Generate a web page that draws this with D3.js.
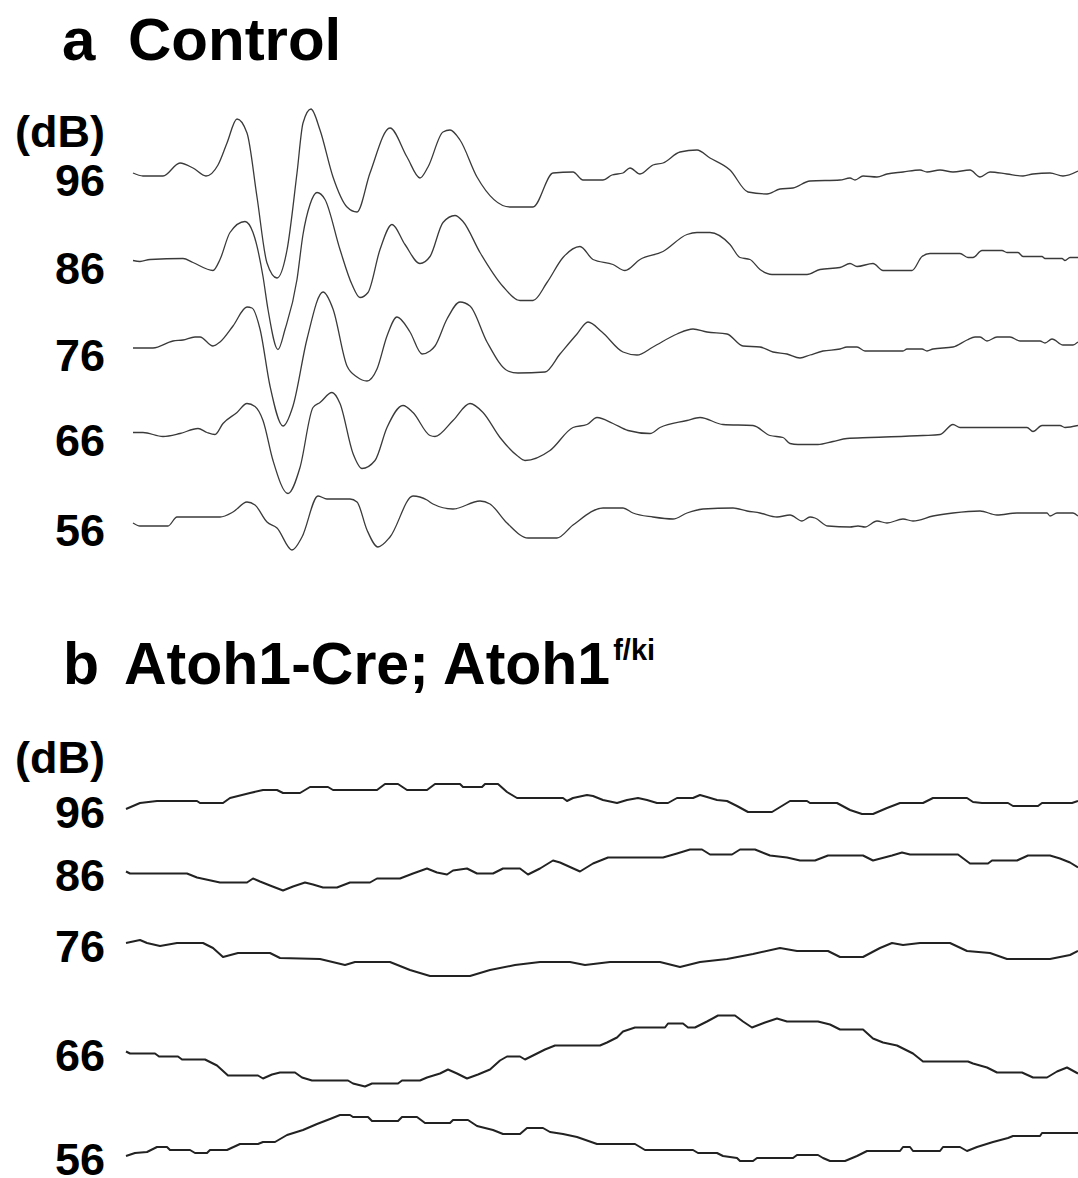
<!DOCTYPE html>
<html>
<head>
<meta charset="utf-8">
<script src="https://cdn.jsdelivr.net/npm/d3@7"></script>
<style>
  body { margin: 0; background: #fff; }
  text { font-family: "Liberation Sans", Arial, sans-serif; font-weight: bold; fill: #000; }
</style>
</head>
<body>
<div id="chart"></div>
<script>
// stimulus levels (dB), top to bottom
var levels = [96, 86, 76, 66, 56];

// panel a: control ABR traces, [time (ms), amplitude]
var ctl96 = [[0,0],[0.10,-0.3],[0.30,-0.3],[0.47,1.0],[0.60,0.5],[0.73,-0.3],[0.85,0.8],[0.94,3.0],[1.04,5.4],[1.14,4.0],[1.24,-2.4],[1.34,-9.0],[1.44,-10.5],[1.54,-7.7],[1.64,0.0],[1.70,5.0],[1.78,6.4],[1.87,4.3],[2.00,-0.4],[2.14,-3.4],[2.24,-3.9],[2.37,0.0],[2.57,4.5],[2.74,1.6],[2.87,-0.5],[2.95,0.6],[3.10,4.1],[3.17,4.3],[3.27,3.3],[3.44,-0.4],[3.77,-3.4],[4.00,-3.4],[4.20,0.0],[4.40,0.1],[4.50,-0.7],[4.70,-0.7],[4.79,-0.2],[4.90,0.0],[4.97,0.5],[5.07,-0.1],[5.20,0.8],[5.30,1.0],[5.47,2.1],[5.64,2.3],[5.77,1.5],[5.97,0.3],[6.15,-1.9],[6.34,-2.1],[6.47,-1.6],[6.60,-1.5],[6.77,-0.8],[7.07,-0.7],[7.17,-0.5],[7.22,-0.7],[7.30,-0.3],[7.44,-0.4],[7.54,-0.1],[7.70,0.1],[7.87,0.3],[7.94,0.1],[8.07,0.3],[8.20,0.1],[8.37,0.3],[8.47,-0.4],[8.57,0.1],[8.74,-0.1],[8.90,-0.3],[9.00,-0.1],[9.17,0.0],[9.30,-0.3],[9.45,0.2]];
var ctl86 = [[0,0],[0.07,-0.1],[0.17,0.1],[0.50,0.2],[0.60,-0.2],[0.80,-1.0],[0.87,0.1],[0.97,2.8],[1.12,3.9],[1.20,2.8],[1.30,-1.6],[1.35,-4.9],[1.45,-8.9],[1.52,-6.9],[1.64,-1.9],[1.70,2.6],[1.77,5.6],[1.84,6.8],[1.92,6.1],[2.07,1.1],[2.19,-2.4],[2.27,-3.7],[2.35,-3.2],[2.47,1.1],[2.59,3.6],[2.72,1.6],[2.87,-0.3],[2.97,0.4],[3.10,3.8],[3.22,4.5],[3.30,3.9],[3.47,0.8],[3.70,-2.6],[3.87,-4.0],[4.00,-4.0],[4.14,-2.2],[4.30,0.3],[4.47,1.4],[4.60,0.1],[4.80,-0.4],[4.92,-1.0],[5.07,0.1],[5.30,0.9],[5.54,2.6],[5.64,2.8],[5.77,2.8],[5.97,1.6],[6.07,0.3],[6.17,0.1],[6.27,-0.9],[6.39,-1.4],[6.74,-1.4],[6.87,-0.9],[7.07,-0.7],[7.17,-0.3],[7.24,-0.6],[7.40,-0.3],[7.50,-1.0],[7.79,-1.0],[7.89,0.4],[7.97,0.7],[8.27,0.7],[8.35,0.3],[8.40,0.3],[8.49,1.0],[8.69,1.0],[8.74,0.8],[8.85,0.8],[8.90,0.4],[9.09,0.4],[9.12,0.2],[9.29,0.2],[9.32,0.0],[9.37,0.3],[9.45,0.3]];
var ctl76 = [[0,0],[0.20,0],[0.40,0.7],[0.50,0.8],[0.62,1.1],[0.67,1.1],[0.80,0.2],[0.87,0.6],[1.00,2.2],[1.14,4.1],[1.19,4.0],[1.27,1.9],[1.37,-3.8],[1.50,-7.8],[1.60,-5.8],[1.74,0.9],[1.90,5.6],[2.00,3.9],[2.14,-1.8],[2.24,-2.9],[2.34,-3.3],[2.44,-2.1],[2.54,1.2],[2.64,3.1],[2.77,1.6],[2.89,-0.6],[2.97,-0.3],[3.02,0.2],[3.14,2.9],[3.27,4.6],[3.37,4.2],[3.54,0.6],[3.75,-2.3],[3.85,-2.5],[4.12,-2.4],[4.27,-0.6],[4.44,1.4],[4.55,2.6],[4.69,1.6],[4.90,-0.4],[5.04,-0.7],[5.20,0.1],[5.44,1.4],[5.60,1.9],[5.74,1.6],[5.94,1.4],[6.10,0.2],[6.27,0.1],[6.40,-0.4],[6.54,-0.6],[6.67,-1.0],[6.77,-0.7],[6.90,-0.3],[7.07,-0.1],[7.14,0.1],[7.24,0.1],[7.32,-0.3],[7.70,-0.3],[7.74,-0.1],[7.89,-0.1],[7.94,-0.3],[8.00,-0.1],[8.20,0.1],[8.34,0.8],[8.42,1.1],[8.47,1.1],[8.54,0.7],[8.64,1.1],[8.77,1.1],[8.87,0.7],[9.07,0.7],[9.12,0.5],[9.19,0.9],[9.30,0.3],[9.40,0.3],[9.45,0.6]];
var ctl66 = [[0,0.3],[0.10,0.3],[0.30,-0.1],[0.47,0.2],[0.65,0.7],[0.74,0.3],[0.82,0.1],[0.90,1.2],[1.04,2.3],[1.14,3.2],[1.22,2.9],[1.30,1.5],[1.40,-2.5],[1.55,-5.8],[1.67,-3.2],[1.80,2.8],[1.87,3.3],[1.99,4.3],[2.07,3.2],[2.20,-1.8],[2.29,-3.3],[2.42,-2.5],[2.54,0.8],[2.70,3.0],[2.80,2.3],[2.97,0.0],[3.02,-0.1],[3.20,1.5],[3.37,3.2],[3.50,2.3],[3.67,-0.2],[3.84,-2.0],[3.92,-2.5],[4.17,-1.5],[4.40,0.8],[4.54,1.1],[4.64,1.8],[4.80,1.2],[4.95,0.5],[5.17,0.2],[5.27,0.8],[5.54,1.5],[5.67,1.8],[5.90,1.1],[6.20,1.0],[6.37,0.0],[6.50,-0.2],[6.57,-0.8],[6.65,-0.9],[6.85,-0.9],[7.00,-0.6],[7.14,-0.3],[7.37,-0.2],[7.90,0.0],[8.07,0.1],[8.20,1.1],[8.27,0.8],[8.94,0.8],[9.00,0.4],[9.09,1.0],[9.27,1.0],[9.32,0.8],[9.45,1.0]];
var ctl56 = [[0,0],[0.07,-0.3],[0.35,-0.3],[0.44,0.6],[0.87,0.6],[1.00,1.1],[1.14,2.1],[1.22,1.8],[1.34,0.1],[1.44,-0.5],[1.59,-2.7],[1.69,-1.4],[1.85,2.7],[1.94,2.4],[2.17,2.4],[2.24,2.1],[2.34,-0.7],[2.45,-2.4],[2.57,-1.4],[2.80,2.7],[2.94,2.3],[3.00,1.9],[3.20,1.4],[3.47,2.2],[3.57,1.9],[3.74,0.0],[3.95,-1.5],[4.24,-1.5],[4.40,-0.2],[4.70,1.5],[4.90,1.5],[5.00,1.0],[5.20,0.6],[5.40,0.4],[5.54,1.0],[5.70,1.4],[6.00,1.5],[6.14,1.2],[6.27,1.0],[6.44,0.6],[6.57,0.8],[6.69,0.2],[6.77,0.6],[6.82,0.5],[6.95,-0.3],[7.17,-0.4],[7.25,-0.3],[7.32,-0.4],[7.44,0.2],[7.54,0.0],[7.70,0.4],[7.80,0.2],[8.00,0.7],[8.20,1.0],[8.47,1.2],[8.64,0.8],[8.84,1.0],[9.14,1.0],[9.17,0.7],[9.24,1.0],[9.40,1.0],[9.45,0.7]];

// panel b: Atoh1-Cre; Atoh1 f/ki traces, [time (ms), amplitude]
var cko96 = [[0,0],[0.14,0.6],[0.31,0.8],[0.71,0.8],[0.74,0.6],[0.97,0.6],[1.04,1.1],[1.24,1.6],[1.37,1.9],[1.51,1.9],[1.57,1.6],[1.74,1.6],[1.84,2.2],[2.02,2.2],[2.07,1.9],[2.51,1.9],[2.59,2.5],[2.72,2.5],[2.81,1.9],[3.01,1.9],[3.09,2.5],[3.34,2.5],[3.37,2.2],[3.56,2.2],[3.59,2.5],[3.72,2.5],[3.81,1.7],[3.91,1.1],[4.37,1.1],[4.41,0.8],[4.47,1.1],[4.61,1.4],[4.67,1.3],[4.77,0.9],[4.91,0.6],[5.01,0.9],[5.12,1.1],[5.21,0.9],[5.31,0.6],[5.42,0.6],[5.51,1.1],[5.67,1.1],[5.74,1.4],[5.81,1.2],[5.91,0.9],[6.01,0.8],[6.11,0.3],[6.22,-0.3],[6.46,-0.3],[6.64,0.8],[6.81,0.8],[6.84,0.6],[7.11,0.6],[7.24,-0.1],[7.36,-0.5],[7.47,-0.5],[7.61,0.1],[7.74,0.6],[7.97,0.6],[8.07,1.1],[8.41,1.1],[8.47,0.7],[8.56,0.6],[8.82,0.6],[8.87,0.3],[9.12,0.3],[9.16,0.6],[9.46,0.6],[9.52,0.8]];
var cko86 = [[0,2.4],[0.04,2.2],[0.61,2.2],[0.71,1.8],[0.94,1.3],[1.21,1.3],[1.27,1.7],[1.34,1.4],[1.44,1.0],[1.57,0.5],[1.67,0.9],[1.79,1.3],[1.87,1.1],[1.97,0.8],[2.11,0.8],[2.24,1.3],[2.44,1.3],[2.51,1.7],[2.74,1.7],[2.87,2.2],[3.01,2.7],[3.11,2.3],[3.21,2.1],[3.27,2.5],[3.41,2.7],[3.51,2.2],[3.67,2.2],[3.77,2.7],[3.94,2.7],[4.02,2.1],[4.14,2.7],[4.27,3.5],[4.34,3.3],[4.54,2.4],[4.67,3.2],[4.82,3.8],[5.37,3.8],[5.51,4.2],[5.64,4.6],[5.76,4.6],[5.84,4.1],[6.06,4.1],[6.14,4.6],[6.29,4.6],[6.44,4.0],[6.61,3.8],[6.74,3.5],[6.89,3.5],[7.02,4.0],[7.37,4.0],[7.47,3.5],[7.66,4.0],[7.76,4.3],[7.84,4.1],[8.32,4.1],[8.44,3.2],[8.62,3.2],[8.66,3.5],[8.91,3.5],[9.02,4.0],[9.24,4.0],[9.34,3.7],[9.44,3.3],[9.52,2.8]];
var cko76 = [[0,3.9],[0.14,4.2],[0.21,3.9],[0.34,3.6],[0.51,3.9],[0.77,3.9],[0.87,3.4],[0.97,2.5],[1.12,2.9],[1.44,2.9],[1.54,2.4],[1.94,2.3],[2.19,1.7],[2.29,2.0],[2.64,2.0],[2.84,1.2],[3.04,0.6],[3.44,0.6],[3.64,1.2],[3.89,1.7],[4.14,2.0],[4.44,2.0],[4.59,1.7],[4.84,2.0],[5.34,2.0],[5.54,1.5],[5.74,2.0],[6.01,2.3],[6.27,2.8],[6.54,3.4],[6.71,3.1],[7.02,3.1],[7.14,2.5],[7.37,2.5],[7.54,3.4],[7.66,3.9],[7.77,3.7],[7.94,3.9],[8.24,3.9],[8.41,3.1],[8.64,2.9],[8.81,2.3],[9.24,2.3],[9.44,2.7],[9.52,3.1]];
var cko66 = [[0,1.7],[0.04,1.5],[0.29,1.5],[0.33,1.2],[0.52,1.2],[0.56,0.9],[0.79,0.9],[0.91,0.3],[1.02,-0.7],[1.32,-0.7],[1.37,-1.0],[1.46,-0.6],[1.54,-0.4],[1.69,-0.4],[1.76,-0.9],[1.86,-1.2],[2.22,-1.2],[2.27,-1.5],[2.39,-1.8],[2.46,-1.5],[2.72,-1.5],[2.76,-1.2],[2.94,-1.2],[3.01,-0.9],[3.14,-0.5],[3.22,-0.1],[3.31,-0.5],[3.41,-1.0],[3.52,-0.6],[3.64,-0.1],[3.74,0.8],[3.81,1.2],[3.94,1.2],[3.99,0.9],[4.07,1.3],[4.19,1.9],[4.29,2.3],[4.74,2.3],[4.81,2.6],[4.91,3.1],[4.97,3.7],[5.09,4.1],[5.39,4.1],[5.42,4.5],[5.57,4.5],[5.62,4.1],[5.69,4.1],[5.81,4.7],[5.92,5.3],[6.09,5.3],[6.17,4.7],[6.26,4.1],[6.39,4.6],[6.51,5.0],[6.61,4.7],[6.92,4.7],[7.04,4.4],[7.14,3.9],[7.37,3.9],[7.47,3.0],[7.57,2.6],[7.71,2.3],[7.87,1.5],[7.97,0.7],[8.42,0.7],[8.47,0.5],[8.61,0.1],[8.71,-0.4],[8.96,-0.4],[9.07,-0.9],[9.21,-0.9],[9.31,-0.3],[9.41,0.1],[9.52,-0.5]];
var cko56 = [[0,-0.1],[0.09,0.2],[0.21,0.3],[0.31,0.8],[0.41,0.8],[0.44,0.5],[0.64,0.5],[0.69,0.2],[0.81,0.2],[0.84,0.5],[1.01,0.5],[1.14,1.1],[1.32,1.1],[1.37,1.3],[1.49,1.3],[1.61,2.0],[1.77,2.5],[1.91,3.1],[2.04,3.6],[2.14,4.0],[2.24,4.0],[2.27,3.8],[2.42,3.8],[2.46,3.4],[2.72,3.4],[2.76,3.8],[2.91,3.8],[2.99,3.2],[3.24,3.2],[3.27,3.5],[3.42,3.5],[3.51,2.9],[3.67,2.5],[3.77,2.1],[3.94,2.1],[4.01,2.7],[4.17,2.7],[4.24,2.3],[4.37,2.1],[4.51,1.8],[4.71,1.1],[5.09,1.1],[5.19,0.5],[5.67,0.5],[5.72,0.2],[5.91,0.2],[5.97,-0.1],[6.11,-0.3],[6.14,-0.6],[6.27,-0.6],[6.31,-0.3],[6.67,-0.3],[6.71,0.0],[6.92,0.0],[6.97,-0.3],[7.04,-0.6],[7.19,-0.6],[7.31,-0.1],[7.41,0.4],[7.74,0.4],[7.77,0.8],[7.84,0.8],[7.87,0.4],[8.14,0.4],[8.17,0.8],[8.34,0.8],[8.41,0.4],[8.51,0.8],[8.67,1.3],[8.82,1.7],[8.87,1.9],[9.14,1.9],[9.16,2.2],[9.52,2.2]];

var controlTraces = [ctl96, ctl86, ctl76, ctl66, ctl56];
var mutantTraces = [cko96, cko86, cko76, cko66, cko56];

var width = 1078, height = 1178;

var svg = d3.select("#chart").append("svg")
    .attr("width", width)
    .attr("height", height);

// one amplitude unit = 10 px, up is positive
var amp = d3.scaleLinear().domain([0, 1]).range([0, -10]);

function drawPanel(traces, opts) {
    var x = d3.scaleLinear().domain([0, opts.tMax]).range([opts.x0, width]);
    var stack = d3.scalePoint().domain(levels).range(opts.stackRange);

    var g = svg.append("g").attr("class", "panel");

    traces.forEach(function (trace, i) {
        var base = stack(levels[i]);
        var line = d3.line()
            .curve(opts.curve)
            .x(function (d) { return x(d[0]); })
            .y(function (d) { return base + amp(d[1]); });

        g.append("path")
            .datum(trace)
            .attr("d", line)
            .attr("fill", "none")
            .attr("stroke", opts.stroke)
            .attr("stroke-width", opts.strokeWidth)
            .attr("stroke-linejoin", "round");

        // level label sits at the trace's starting level
        g.append("text")
            .attr("x", 105)
            .attr("y", base + amp(trace[0][1]) + opts.labelShift)
            .attr("dy", "0.36em")
            .attr("text-anchor", "end")
            .attr("font-size", "45px")
            .text(levels[i]);
    });

    g.append("text")
        .attr("x", 105)
        .attr("y", opts.dbY)
        .attr("dy", "0.36em")
        .attr("text-anchor", "end")
        .attr("font-size", "45px")
        .text("(dB)");
}

// titles
svg.append("text").attr("x", 62).attr("y", 60).attr("font-size", "60px").text("a");
svg.append("text").attr("x", 128).attr("y", 60).attr("font-size", "60px").text("Control");

svg.append("text").attr("x", 63).attr("y", 684).attr("font-size", "59px").text("b");
var tb = svg.append("text").attr("x", 124).attr("y", 684).attr("font-size", "59px");
tb.append("tspan").text("Atoh1-Cre; Atoh1");
tb.append("tspan").attr("font-size", "29px").attr("dy", "-24").attr("dx", "3").text("f/ki");

drawPanel(controlTraces, {
    tMax: 9.45, x0: 133, stackRange: [173, 523], curve: d3.curveMonotoneX,
    stroke: "#3a3a3a", strokeWidth: 1.3, labelShift: 7, dbY: 131
});

drawPanel(mutantTraces, {
    tMax: 9.52, x0: 126, stackRange: [809, 1155], curve: d3.curveLinear,
    stroke: "#222", strokeWidth: 2, labelShift: 3, dbY: 757
});
</script>
</body>
</html>
